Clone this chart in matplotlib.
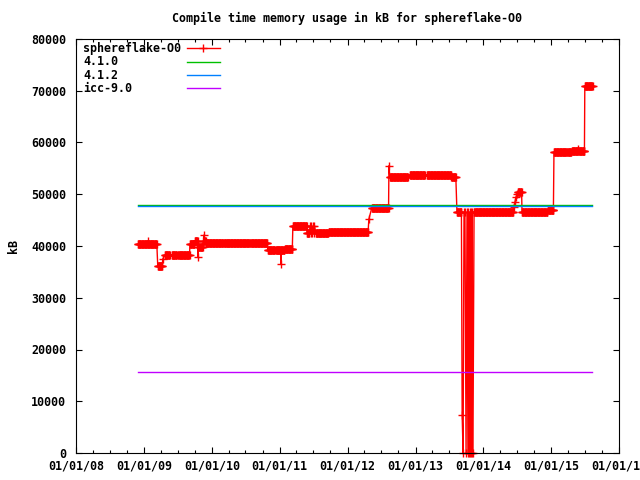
import numpy as np
import pandas as pd
import matplotlib
matplotlib.use("Agg")
import matplotlib.pyplot as plt
import matplotlib.dates as mdates

# sphereflake-O0: runs of equal readings (first day, last day, kB)
plateau_start = [
    "2008-11-29", "2009-03-16", "2009-04-23", "2009-05-31", "2009-07-03",
    "2009-09-05", "2009-10-02", "2009-10-20", "2009-11-16", "2009-11-30",
    "2010-03-07", "2010-07-30", "2010-10-29", "2010-12-11", "2011-01-29",
    "2011-03-13", "2011-05-28", "2011-07-15", "2011-09-22", "2012-05-11",
    "2012-08-16", "2012-12-02", "2013-03-03", "2013-07-13", "2013-08-12",
    "2013-11-12", "2014-07-06", "2014-07-28", "2014-12-14", "2015-01-16",
    "2015-04-01", "2015-04-22", "2015-05-26", "2015-07-01",
]
plateau_end = [
    "2009-03-11", "2009-04-10", "2009-05-20", "2009-06-27", "2009-09-03",
    "2009-09-30", "2009-10-16", "2009-11-14", "2009-11-28", "2010-03-02",
    "2010-07-25", "2010-10-27", "2010-12-06", "2011-01-27", "2011-03-11",
    "2011-05-26", "2011-06-10", "2011-09-20", "2012-04-21", "2012-08-09",
    "2012-11-21", "2013-02-21", "2013-07-11", "2013-08-07", "2013-09-05",
    "2014-06-10", "2014-07-26", "2014-12-12", "2015-01-14", "2015-03-27",
    "2015-04-20", "2015-05-22", "2015-06-29", "2015-08-13",
]
plateau_kb = [
    40300, 36100, 38200, 38200, 38200,
    40300, 40960, 39900, 41000, 40500,
    40500, 40500, 39300, 39300, 39500,
    43800, 42600, 42600, 42800, 47400,
    53300, 53700, 53700, 53300, 46500,
    46500, 50500, 46500, 47000, 58100,
    58200, 58300, 58400, 70900,
]

# single readings outside the runs
single_dates = [
    "2009-01-22", "2009-04-12", "2009-10-18", "2009-11-19", "2011-01-08",
    "2011-06-14", "2011-06-17", "2011-06-21", "2011-06-25", "2011-06-29",
    "2011-07-03", "2011-07-07", "2012-04-25", "2012-08-11",
    "2013-09-09", "2013-09-14", "2013-09-19", "2013-09-24", "2013-09-30",
    "2013-10-05", "2013-10-10", "2013-10-13", "2013-10-16", "2013-10-19",
    "2013-10-22", "2013-10-25", "2013-10-28", "2013-10-31", "2013-11-03",
    "2013-11-06",
    "2014-06-14", "2014-06-20", "2014-06-26", "2014-07-01", "2015-05-24",
]
single_kb = [
    41000, 37500, 37900, 42100, 36500,
    43800, 42600, 43800, 42600, 43800,
    42600, 43800, 45200, 55500,
    7300, 0, 46500, 46500, 0,
    46500, 0, 46500, 0, 46500,
    0, 46500, 0, 46500, 0,
    0,
    47500, 48500, 49500, 50000, 58700,
]

# reference compilers
ref_dates = ["2008-11-29", "2015-08-10"]
gcc410_kb = [47850, 47850]
gcc412_kb = [47650, 47650]
icc90_kb = [15650, 15650]

parts = []
for s, e, v in zip(plateau_start, plateau_end, plateau_kb):
    d = pd.date_range(s, e, freq="2D")
    parts.append(pd.DataFrame({"date": d, "kb": v}))
parts.append(pd.DataFrame({"date": pd.to_datetime(single_dates), "kb": single_kb}))
series = pd.concat(parts).sort_values("date")

fs = 8.4
plt.rcParams["font.family"] = "DejaVu Sans Mono"
plt.rcParams["font.weight"] = "bold"

fig = plt.figure(figsize=(6.4, 4.8), dpi=100)
ax = fig.add_axes([76 / 640, 1 - 453 / 480, 543 / 640, 414 / 480])

red, green, blue, purple = "#ff0000", "#00c000", "#0080ff", "#c000ff"

ax.plot(series["date"], series["kb"], color=red, lw=1.0, marker="+",
        ms=5.5, mew=1.0, clip_on=False)
rd = pd.to_datetime(ref_dates)
ax.plot(rd, gcc410_kb, color=green, lw=1.0)
ax.plot(rd, gcc412_kb, color=blue, lw=1.0)
ax.plot(rd, icc90_kb, color=purple, lw=1.0)

ax.set_xlim(pd.Timestamp("2008-01-01"), pd.Timestamp("2016-01-01"))
ax.set_ylim(0, 80000)
ax.set_yticks(np.arange(0, 80001, 10000))
ax.xaxis.set_major_locator(mdates.YearLocator())
ax.xaxis.set_minor_locator(mdates.MonthLocator(bymonth=[4, 7, 10]))
ax.xaxis.set_major_formatter(mdates.DateFormatter("%m/%d/%y"))

ax.tick_params(which="both", direction="in", top=True, right=True,
               width=0.8, labelsize=fs)
ax.tick_params(which="major", length=4.5)
ax.tick_params(which="minor", length=2.5)
ax.tick_params(axis="x", pad=5)
ax.tick_params(axis="y", pad=7)
for sp in ax.spines.values():
    sp.set_linewidth(0.8)

# gnuplot style key, text left and sample on the right
names = ["sphereflake-O0", "4.1.0", "4.1.2", "icc-9.0"]
colors = [red, green, blue, purple]
rows = [0.978, 0.945, 0.913, 0.881]
for name, c, y in zip(names, colors, rows):
    ax.text(0.013, y, name, transform=ax.transAxes, va="center", ha="left",
            fontsize=fs, fontweight="bold")
    ax.plot([0.204, 0.265], [y, y], transform=ax.transAxes, color=c, lw=1.0)
ax.plot([0.234], [rows[0]], transform=ax.transAxes, color=red, marker="+",
        ms=5.5, mew=1.0)

fig.text(347 / 640, 1 - 18 / 480, "Compile time memory usage in kB for sphereflake-O0",
         ha="center", va="center", fontsize=fs, fontweight="bold")
fig.text(14 / 640, 1 - 246 / 480, "kB", rotation=90, ha="center", va="center",
         fontsize=fs, fontweight="bold")

fig.savefig("out.png", dpi=100)
